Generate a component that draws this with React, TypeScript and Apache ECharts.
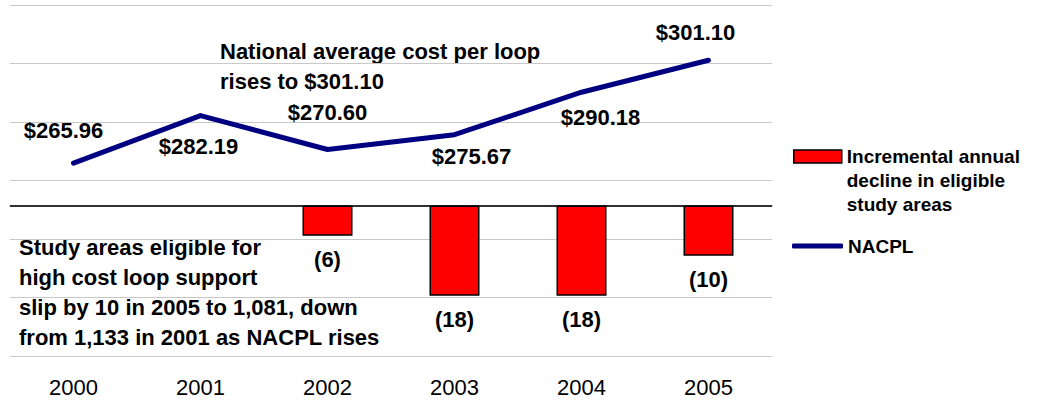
import React, { useEffect, useRef } from 'react';
import * as echarts from 'echarts';

const years = ['2000', '2001', '2002', '2003', '2004', '2005'];
const nacpl = [265.96, 282.19, 270.6, 275.67, 290.18, 301.1];
const decline: (number | null)[] = [null, null, -6, -18, -18, -10];
const costAxis = { min: 200, max: 320, interval: 20 };
const declineAxis = { min: -30, max: 40 };
const barName = 'Incremental annual\ndecline in eligible\nstudy areas';
const lineName = 'NACPL';
const noteTop = 'National average cost per loop\nrises to $301.10';
const noteBottom =
  'Study areas eligible for\nhigh cost loop support\nslip by 10 in 2005 to 1,081, down\nfrom 1,133 in 2001 as NACPL rises';

// label placement offsets (styling, not data)
const lineLabelOffsets = [
  [-10, -33],
  [-2, 31],
  [0, -37],
  [17, 22],
  [19, 25],
  [-13, -28],
];

const FONT = '"Liberation Sans", Arial, sans-serif';

export default function App() {
  const ref = useRef<HTMLDivElement>(null);
  useEffect(() => {
    if (!ref.current) return;
    const chart = echarts.init(ref.current, null, { renderer: 'svg' });
    chart.setOption({
      animation: false,
      textStyle: { fontFamily: FONT },
      grid: { left: 10, right: 266, top: 5, bottom: 44 },
      legend: [
        {
          data: [barName],
          left: 793,
          top: 96.5,
          padding: 0,
          orient: 'vertical',
          icon: 'rect',
          itemWidth: 48,
          itemHeight: 13,
          selectedMode: false,
          itemStyle: { borderColor: '#000', borderWidth: 1.5 },
          // two leading empty lines keep the first text line level with the swatch
          formatter: (name: string) => '\n\n' + name,
          textStyle: {
            fontFamily: FONT,
            fontSize: 19,
            fontWeight: 'bold',
            color: '#000',
            lineHeight: 24,
          },
        },
        {
          data: [lineName],
          left: 792,
          top: 234,
          padding: 0,
          icon: 'roundRect',
          itemWidth: 51,
          itemHeight: 5,
          selectedMode: false,
          textStyle: {
            fontFamily: FONT,
            fontSize: 19,
            fontWeight: 'bold',
            color: '#000',
            lineHeight: 24,
          },
        },
      ],
      xAxis: {
        type: 'category',
        data: years,
        axisLine: { lineStyle: { color: '#c4c4c4', width: 2 } },
        axisTick: { show: false },
        axisLabel: { fontFamily: FONT, fontSize: 22, color: '#000', margin: 20 },
      },
      yAxis: [
        {
          type: 'value',
          min: costAxis.min,
          max: costAxis.max,
          interval: costAxis.interval,
          axisLabel: { show: false },
          axisLine: { show: false },
          axisTick: { show: false },
          splitLine: { lineStyle: { color: '#c8c8c8', width: 1 } },
        },
        {
          type: 'value',
          min: declineAxis.min,
          max: declineAxis.max,
          axisLabel: { show: false },
          axisLine: { show: false },
          axisTick: { show: false },
          splitLine: { show: false },
        },
      ],
      series: [
        {
          name: barName,
          type: 'bar',
          yAxisIndex: 1,
          data: decline,
          barWidth: 50,
          itemStyle: { color: '#ff0000', borderColor: '#000', borderWidth: 1.5 },
          label: {
            show: true,
            position: 'bottom',
            distance: 13,
            fontFamily: FONT,
            fontSize: 22,
            fontWeight: 'bold',
            color: '#000',
            formatter: (p: any) => `(${Math.abs(p.value)})`,
          },
          markLine: {
            silent: true,
            symbol: ['none', 'none'],
            label: { show: false },
            lineStyle: { color: '#000', width: 1.5, type: 'solid' },
            data: [{ yAxis: 0 }],
          },
          z: 2,
        },
        {
          name: lineName,
          type: 'line',
          yAxisIndex: 0,
          data: nacpl.map((v, i) => ({
            value: v,
            label: { offset: lineLabelOffsets[i] },
          })),
          symbol: 'circle',
          symbolSize: 2,
          lineStyle: { color: '#000080', width: 5, cap: 'round', join: 'round' },
          itemStyle: { color: '#000080' },
          label: {
            show: true,
            position: 'inside',
            fontFamily: FONT,
            fontSize: 22,
            fontWeight: 'bold',
            color: '#000',
            formatter: (p: any) => '$' + Number(p.value).toFixed(2),
          },
          z: 3,
        },
      ],
      graphic: [
        {
          type: 'text',
          left: 220,
          top: 36,
          style: {
            text: noteTop,
            font: `bold 22px ${FONT}`,
            fill: '#000',
            lineHeight: 30,
          },
        },
        {
          type: 'text',
          left: 19,
          top: 232,
          style: {
            text: noteBottom,
            font: `bold 22px ${FONT}`,
            fill: '#000',
            lineHeight: 30,
          },
        },
      ],
    });
    return () => chart.dispose();
  }, []);
  return (
    <div
      ref={ref}
      style={{ position: 'absolute', left: 0, top: 0, width: 1038, height: 400 }}
    />
  );
}
